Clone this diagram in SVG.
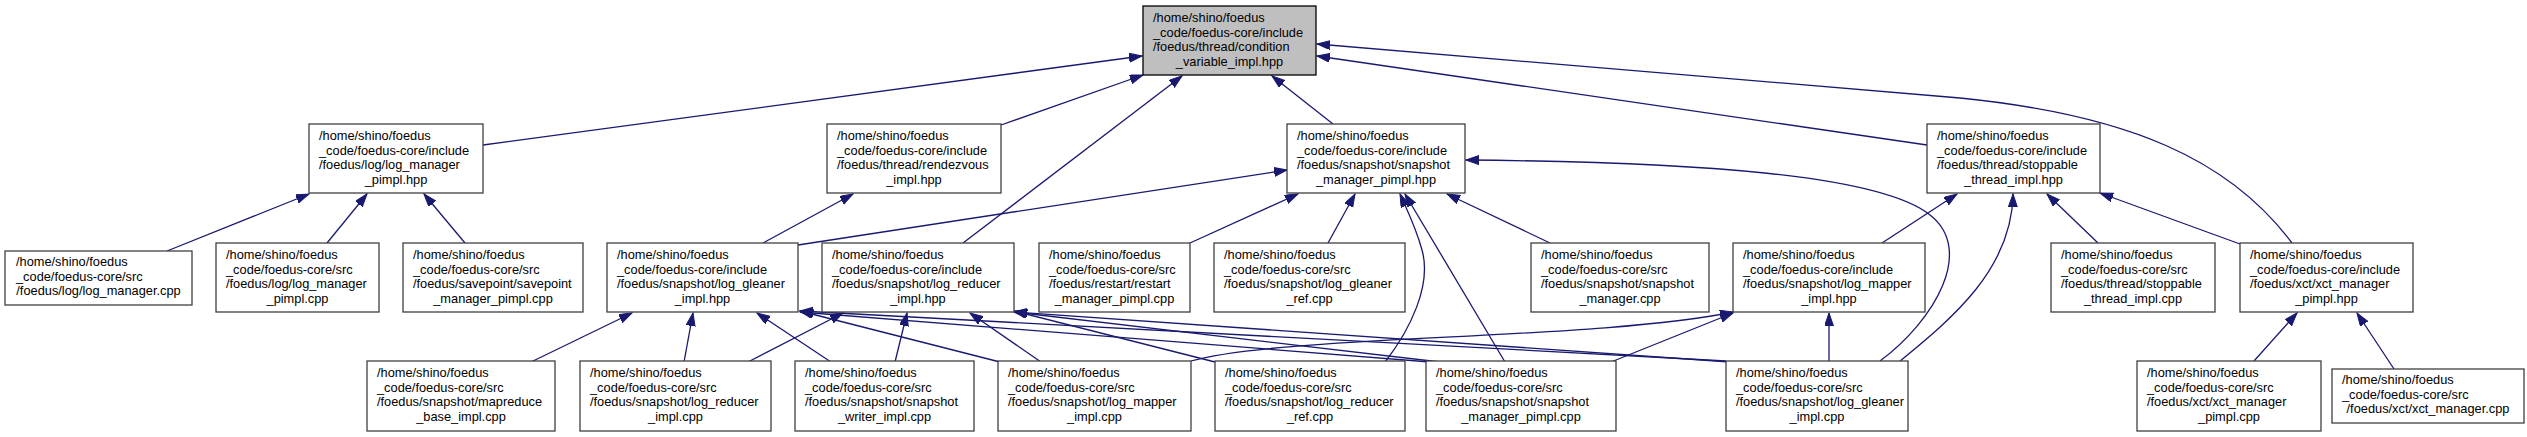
<svg xmlns="http://www.w3.org/2000/svg" width="2527" height="437" viewBox="0 0 2527 437">
<style>
.n rect{fill:#fff;stroke:#404040;stroke-width:1.3}
.root rect{fill:#bfbfbf;stroke:#000}
text{font-family:"Liberation Sans",Arial,sans-serif;font-size:12.8px;fill:#000}
.c{text-anchor:middle}
#edges path{fill:none;stroke:#191970;stroke-width:1.3;marker-end:url(#a)}
</style>
<defs>
<marker id="a" markerUnits="userSpaceOnUse" markerWidth="14" markerHeight="10" refX="13" refY="4.5" orient="auto">
<path d="M0,0 L13,4.5 L0,9 z" fill="#191970" stroke="#191970" stroke-width="1"/>
</marker>
</defs>
<rect width="2527" height="437" fill="#fff"/>
<g id="edges">
<path d="M483,145 L1142,56"/>
<path d="M1001,125 L1143,75"/>
<path d="M963,243 L1182,76"/>
<path d="M1333,124 L1272,76"/>
<path d="M1927,145 L1317,56"/>
<path d="M2292,243 C2230,160 2130,115 1960,98 L1317,44"/>
<path d="M167,251 L309,194"/>
<path d="M327,243 L367,194"/>
<path d="M465,243 L424,194"/>
<path d="M763,243 L853,194"/>
<path d="M798,245 L1287,170"/>
<path d="M1190,243 L1298,194"/>
<path d="M1328,243 L1355,194"/>
<path d="M1550,243 L1447,194"/>
<path d="M1385,362 C1410,330 1432,285 1422,250 C1416,228 1408,212 1400,194"/>
<path d="M1505,362 L1405,194"/>
<path d="M1880,361 C1935,320 1975,250 1930,215 C1880,175 1700,162 1466,160"/>
<path d="M1882,243 L1957,194"/>
<path d="M1900,361 C1950,320 2012,270 2013,194"/>
<path d="M2098,243 L2047,194"/>
<path d="M2240,244 L2100,193"/>
<path d="M2254,361 L2297,313"/>
<path d="M2394,369 L2357,313"/>
<path d="M531,362 L632,313"/>
<path d="M684,362 L693,313"/>
<path d="M831,362 L757,313"/>
<path d="M1000,362 L800,311"/>
<path d="M1430,362 L800,312"/>
<path d="M1726,361 L800,311"/>
<path d="M748,362 L843,313"/>
<path d="M895,362 L907,313"/>
<path d="M1041,362 L970,313"/>
<path d="M1215,362 L1014,311"/>
<path d="M1440,362 L1014,312"/>
<path d="M1730,362 L1014,312"/>
<path d="M1191,361 C1280,335 1600,340 1733,312"/>
<path d="M1611,362 L1733,313"/>
<path d="M1829,361 L1829,313"/>
</g>
<g id="n0" class="n root"><rect x="1143" y="6" width="173" height="69"/><text x="1153" y="22">/home/shino/foedus</text><text x="1153" y="36.5">_code/foedus-core/include</text><text x="1153" y="51">/foedus/thread/condition</text><text class="c" x="1229.5" y="65.5">_variable_impl.hpp</text></g>
<g id="n1" class="n"><rect x="309" y="124" width="174" height="69"/><text x="319" y="140">/home/shino/foedus</text><text x="319" y="154.5">_code/foedus-core/include</text><text x="319" y="169">/foedus/log/log_manager</text><text class="c" x="396" y="183.5">_pimpl.hpp</text></g>
<g id="n2" class="n"><rect x="827" y="124" width="174" height="69"/><text x="837" y="140">/home/shino/foedus</text><text x="837" y="154.5">_code/foedus-core/include</text><text x="837" y="169">/foedus/thread/rendezvous</text><text class="c" x="914" y="183.5">_impl.hpp</text></g>
<g id="n3" class="n"><rect x="1287" y="124" width="178" height="69"/><text x="1297" y="140">/home/shino/foedus</text><text x="1297" y="154.5">_code/foedus-core/include</text><text x="1297" y="169">/foedus/snapshot/snapshot</text><text class="c" x="1376" y="183.5">_manager_pimpl.hpp</text></g>
<g id="n4" class="n"><rect x="1927" y="124" width="173" height="69"/><text x="1937" y="140">/home/shino/foedus</text><text x="1937" y="154.5">_code/foedus-core/include</text><text x="1937" y="169">/foedus/thread/stoppable</text><text class="c" x="2013.5" y="183.5">_thread_impl.hpp</text></g>
<g id="n5" class="n"><rect x="2240" y="243" width="173" height="69"/><text x="2250" y="259">/home/shino/foedus</text><text x="2250" y="273.5">_code/foedus-core/include</text><text x="2250" y="288">/foedus/xct/xct_manager</text><text class="c" x="2326.5" y="302.5">_pimpl.hpp</text></g>
<g id="n6" class="n"><rect x="5" y="251" width="187" height="54"/><text x="16" y="266">/home/shino/foedus</text><text x="16" y="280.5">_code/foedus-core/src</text><text class="c" x="98.5" y="295">/foedus/log/log_manager.cpp</text></g>
<g id="n7" class="n"><rect x="216" y="243" width="163" height="69"/><text x="226" y="259">/home/shino/foedus</text><text x="226" y="273.5">_code/foedus-core/src</text><text x="226" y="288">/foedus/log/log_manager</text><text class="c" x="297.5" y="302.5">_pimpl.cpp</text></g>
<g id="n8" class="n"><rect x="403" y="243" width="180" height="69"/><text x="413" y="259">/home/shino/foedus</text><text x="413" y="273.5">_code/foedus-core/src</text><text x="413" y="288">/foedus/savepoint/savepoint</text><text class="c" x="493" y="302.5">_manager_pimpl.cpp</text></g>
<g id="n9" class="n"><rect x="607" y="243" width="191" height="69"/><text x="617" y="259">/home/shino/foedus</text><text x="617" y="273.5">_code/foedus-core/include</text><text x="617" y="288">/foedus/snapshot/log_gleaner</text><text class="c" x="702.5" y="302.5">_impl.hpp</text></g>
<g id="n10" class="n"><rect x="822" y="243" width="192" height="69"/><text x="832" y="259">/home/shino/foedus</text><text x="832" y="273.5">_code/foedus-core/include</text><text x="832" y="288">/foedus/snapshot/log_reducer</text><text class="c" x="918" y="302.5">_impl.hpp</text></g>
<g id="n11" class="n"><rect x="1039" y="243" width="151" height="69"/><text x="1049" y="259">/home/shino/foedus</text><text x="1049" y="273.5">_code/foedus-core/src</text><text x="1049" y="288">/foedus/restart/restart</text><text class="c" x="1114.5" y="302.5">_manager_pimpl.cpp</text></g>
<g id="n12" class="n"><rect x="1214" y="243" width="191" height="69"/><text x="1224" y="259">/home/shino/foedus</text><text x="1224" y="273.5">_code/foedus-core/src</text><text x="1224" y="288">/foedus/snapshot/log_gleaner</text><text class="c" x="1309.5" y="302.5">_ref.cpp</text></g>
<g id="n13" class="n"><rect x="1531" y="243" width="178" height="69"/><text x="1541" y="259">/home/shino/foedus</text><text x="1541" y="273.5">_code/foedus-core/src</text><text x="1541" y="288">/foedus/snapshot/snapshot</text><text class="c" x="1620" y="302.5">_manager.cpp</text></g>
<g id="n14" class="n"><rect x="1733" y="243" width="192" height="69"/><text x="1743" y="259">/home/shino/foedus</text><text x="1743" y="273.5">_code/foedus-core/include</text><text x="1743" y="288">/foedus/snapshot/log_mapper</text><text class="c" x="1829" y="302.5">_impl.hpp</text></g>
<g id="n15" class="n"><rect x="2051" y="243" width="164" height="69"/><text x="2061" y="259">/home/shino/foedus</text><text x="2061" y="273.5">_code/foedus-core/src</text><text x="2061" y="288">/foedus/thread/stoppable</text><text class="c" x="2133" y="302.5">_thread_impl.cpp</text></g>
<g id="n16" class="n"><rect x="367" y="361" width="188" height="70"/><text x="377" y="377">/home/shino/foedus</text><text x="377" y="391.5">_code/foedus-core/src</text><text x="377" y="406">/foedus/snapshot/mapreduce</text><text class="c" x="461" y="420.5">_base_impl.cpp</text></g>
<g id="n17" class="n"><rect x="580" y="361" width="191" height="70"/><text x="590" y="377">/home/shino/foedus</text><text x="590" y="391.5">_code/foedus-core/src</text><text x="590" y="406">/foedus/snapshot/log_reducer</text><text class="c" x="675.5" y="420.5">_impl.cpp</text></g>
<g id="n18" class="n"><rect x="795" y="361" width="179" height="70"/><text x="805" y="377">/home/shino/foedus</text><text x="805" y="391.5">_code/foedus-core/src</text><text x="805" y="406">/foedus/snapshot/snapshot</text><text class="c" x="884.5" y="420.5">_writer_impl.cpp</text></g>
<g id="n19" class="n"><rect x="998" y="361" width="193" height="70"/><text x="1008" y="377">/home/shino/foedus</text><text x="1008" y="391.5">_code/foedus-core/src</text><text x="1008" y="406">/foedus/snapshot/log_mapper</text><text class="c" x="1094.5" y="420.5">_impl.cpp</text></g>
<g id="n20" class="n"><rect x="1215" y="361" width="190" height="70"/><text x="1225" y="377">/home/shino/foedus</text><text x="1225" y="391.5">_code/foedus-core/src</text><text x="1225" y="406">/foedus/snapshot/log_reducer</text><text class="c" x="1310" y="420.5">_ref.cpp</text></g>
<g id="n21" class="n"><rect x="1426" y="361" width="190" height="70"/><text x="1436" y="377">/home/shino/foedus</text><text x="1436" y="391.5">_code/foedus-core/src</text><text x="1436" y="406">/foedus/snapshot/snapshot</text><text class="c" x="1521" y="420.5">_manager_pimpl.cpp</text></g>
<g id="n22" class="n"><rect x="1726" y="361" width="182" height="70"/><text x="1736" y="377">/home/shino/foedus</text><text x="1736" y="391.5">_code/foedus-core/src</text><text x="1736" y="406">/foedus/snapshot/log_gleaner</text><text class="c" x="1817" y="420.5">_impl.cpp</text></g>
<g id="n23" class="n"><rect x="2137" y="361" width="184" height="70"/><text x="2147" y="377">/home/shino/foedus</text><text x="2147" y="391.5">_code/foedus-core/src</text><text x="2147" y="406">/foedus/xct/xct_manager</text><text class="c" x="2229" y="420.5">_pimpl.cpp</text></g>
<g id="n24" class="n"><rect x="2332" y="369" width="192" height="54"/><text x="2342" y="384">/home/shino/foedus</text><text x="2342" y="398.5">_code/foedus-core/src</text><text class="c" x="2428" y="413">/foedus/xct/xct_manager.cpp</text></g>
</svg>
